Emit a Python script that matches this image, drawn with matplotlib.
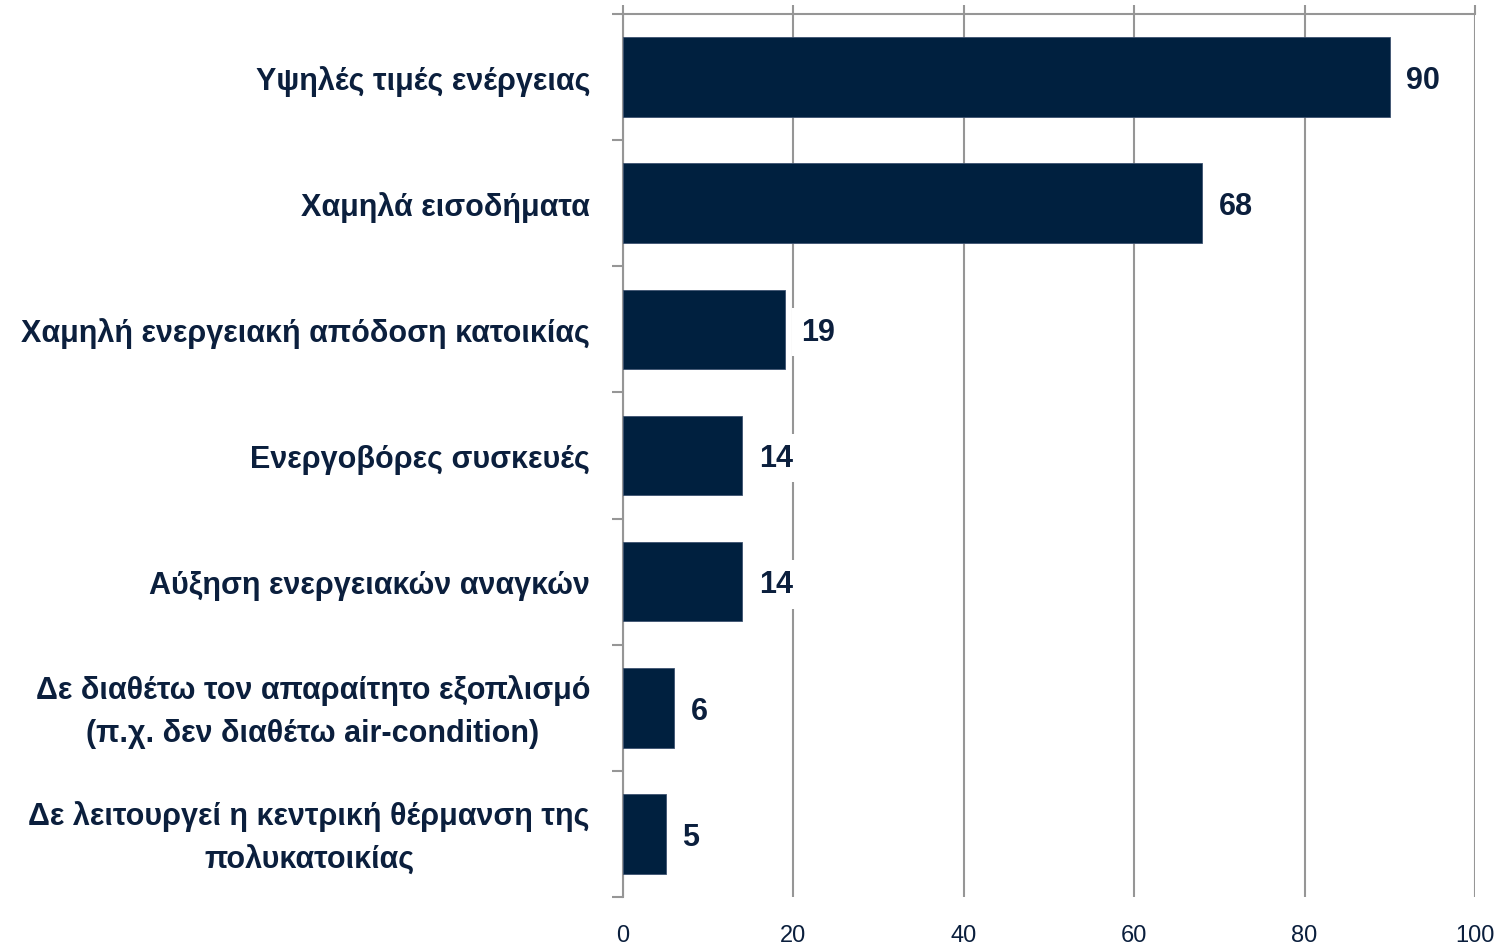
import numpy as np
import matplotlib.pyplot as plt

# categories (top to bottom) and values
categories = [
    "Υψηλές τιμές ενέργειας",
    "Χαμηλά εισοδήματα",
    "Χαμηλή ενεργειακή απόδοση κατοικίας",
    "Ενεργοβόρες συσκευές",
    "Αύξηση ενεργειακών αναγκών",
    "Δε διαθέτω τον απαραίτητο εξοπλισμό\n(π.χ. δεν διαθέτω air-condition)",
    "Δε λειτουργεί η κεντρική θέρμανση της\nπολυκατοικίας",
]
values = [90, 68, 19, 14, 14, 6, 5]
xticks = [0, 20, 40, 60, 80, 100]

navy = "#00203f"
text_col = "#0b1f3d"
grid_col = "#969696"
plt.rcParams["font.family"] = ["Liberation Sans", "DejaVu Sans"]

fig = plt.figure(figsize=(14.99, 9.53), dpi=100)
ax = fig.add_axes([623 / 1499, 1 - 898 / 953, (1475 - 623) / 1499, (898 - 15) / 953])

y = np.arange(len(categories))
ax.barh(y, values, height=0.63, color=navy, edgecolor="#3d5270", linewidth=0.6, zorder=3)

ax.set_ylim(len(categories) - 0.5, -0.5)
ax.set_xlim(0, 100)

# value labels with white background
for yi, v in zip(y, values):
    ax.annotate(str(v), xy=(v, yi), xytext=(12, -2), textcoords="offset points",
                va="center", ha="left", fontsize=22, fontweight="bold",
                color=text_col, zorder=4,
                bbox=dict(boxstyle="square,pad=0.3", fc="white", ec="none"))

# category labels
for yi, cat in zip(y, categories):
    ax.annotate(cat, xy=(-33 / 852, yi), xycoords=ax.get_yaxis_transform(),
                xytext=(0, -2.5), textcoords="offset points",
                ha="right", va="center", multialignment="center", linespacing=1.57,
                fontsize=22, fontweight="bold", color=text_col)

# gridlines and x ticks
ax.set_xticks(xticks)
ax.xaxis.grid(True, color=grid_col, linewidth=1.5, zorder=0)
ax.tick_params(axis="x", top=True, bottom=False, labeltop=False, labelbottom=True,
               direction="out", length=6.5, width=1.5, color=grid_col,
               labelsize=17, labelcolor=text_col, pad=13)

# left ticks on category boundaries
ax.set_yticks(np.arange(len(categories) + 1) - 0.5)
ax.set_yticklabels([])
ax.tick_params(axis="y", length=8, width=1.5, color=grid_col)

for side in ["right", "bottom"]:
    ax.spines[side].set_visible(False)
for side in ["left", "top"]:
    ax.spines[side].set_color(grid_col)
    ax.spines[side].set_linewidth(1.5)

plt.savefig("out.png", dpi=100)
